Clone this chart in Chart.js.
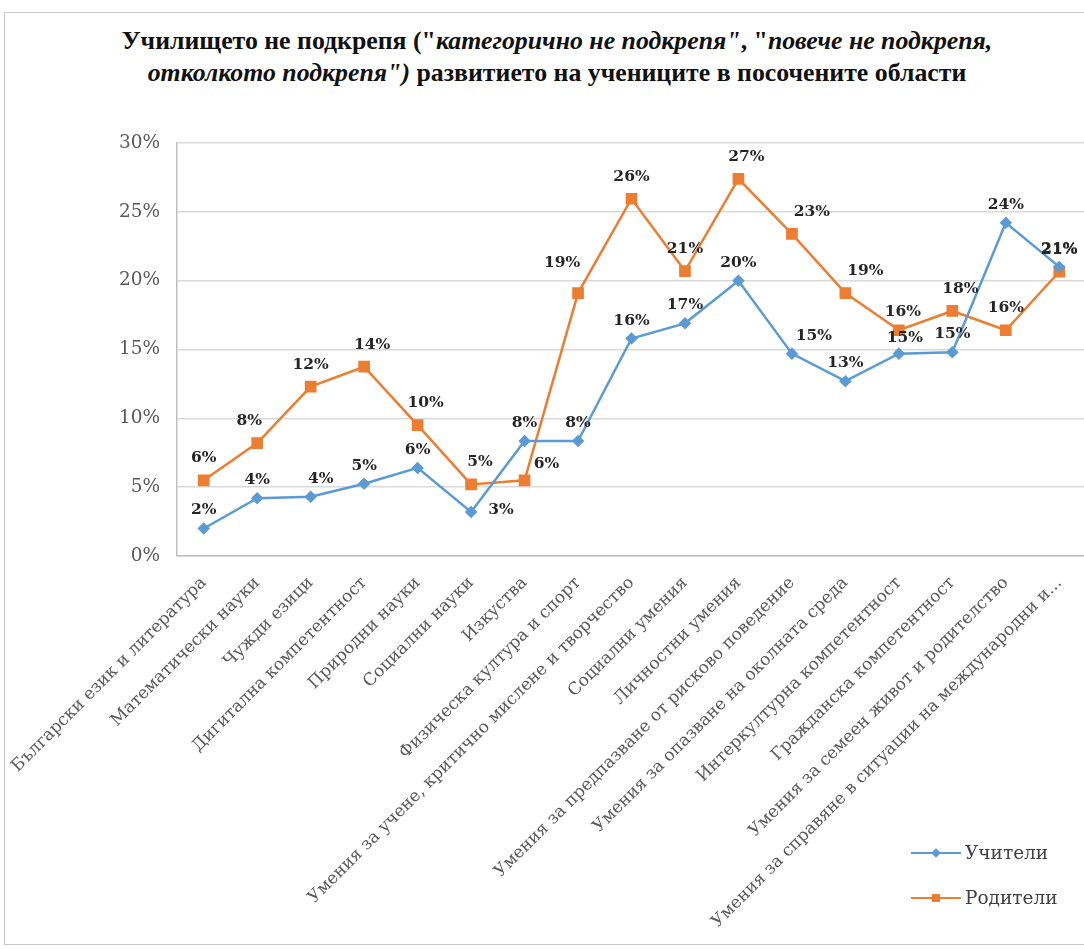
<!DOCTYPE html>
<html lang="bg">
<head>
<meta charset="utf-8">
<script src="https://cdn.jsdelivr.net/npm/chart.js@4.4.1/dist/chart.umd.min.js"></script>
<style>
  html, body { margin: 0; padding: 0; background: #fff; overflow: hidden; width: 1084px; height: 949px; }
  #box { position: absolute; left: 4px; top: 12px; width: 1100px; height: 933px; border: 1.5px solid #c9c9c9; box-sizing: border-box; }
  #title { position: absolute; left: -5px; top: 12px; width: 1114px; text-align: center; font-family: "Liberation Serif", serif; font-weight: bold; font-size: 25.8px; line-height: 32px; color: #111; }
  #chart { position: absolute; left: 0; top: 0; }
  #legend { position: absolute; left: 906px; top: 817px; font-family: "DejaVu Serif", serif; font-size: 18.5px; color: #404040; }
  .item { display: flex; align-items: center; height: 45px; }
  .swatch { position: relative; width: 50px; height: 12px; margin-right: 4px; }
  .swatch .ln { position: absolute; left: 0; right: 0; top: 5px; height: 2.5px; }
  .swatch .mk { position: absolute; left: 21px; top: 2px; width: 8px; height: 8px; }
</style>
</head>
<body>
<div id="box">
  <div id="title">
    Училището не подкрепя ("<i>категорично не подкрепя"</i>, "<i>повече не подкрепя,</i><br>
    <i>отколкото подкрепя")</i> развитието на учениците в посочените области
  </div>
  <canvas id="chart" width="1090" height="930"></canvas>
  <div id="legend">
    <div class="item"><span class="swatch"><span class="ln" style="background:#5B9BD5"></span><span class="mk" style="background:#5B9BD5;transform:rotate(45deg) scale(0.85)"></span></span>Учители</div>
    <div class="item"><span class="swatch"><span class="ln" style="background:#ED7D31"></span><span class="mk" style="background:#ED7D31"></span></span>Родители</div>
  </div>
</div>
<script>
const categories = [
    'Български език и литература',
    'Математически науки',
    'Чужди езици',
    'Дигитална компетентност',
    'Природни науки',
    'Социални науки',
    'Изкуства',
    'Физическа култура и спорт',
    'Умения за учене, критично мислене и творчество',
    'Социални умения',
    'Личностни умения',
    'Умения за предпазване от рисково поведение',
    'Умения за опазване на околната среда',
    'Интеркултурна компетентност',
    'Гражданска компетентност',
    'Умения за семеен живот и родителство',
    'Умения за справяне в ситуации на международни и...'
];

// % "не подкрепя"
const teachers = [2.0, 4.2, 4.3, 5.25, 6.4, 3.2, 8.35, 8.35, 15.8, 16.9, 20.0, 14.7, 12.7, 14.7, 14.8, 24.2, 21.0];
const parents = [5.5, 8.2, 12.3, 13.75, 9.5, 5.2, 5.5, 19.1, 25.95, 20.7, 27.4, 23.4, 19.1, 16.4, 17.8, 16.4, 20.65];

const yTicks = [0, 5, 10, 15, 20, 25, 30];

const BLUE = '#5B9BD5';
const ORANGE = '#ED7D31';

// small shifts for labels that would otherwise sit on a line
const nudge = {
    0: { 2: [10, 0], 5: [30, 16], 11: [22, 0], 13: [6, 2] },
    1: { 1: [-8, 0], 3: [8, 0], 4: [8, 0], 5: [9, 0], 6: [22, 6], 7: [-16, -8], 10: [8, 0], 11: [20, 0], 12: [20, 0], 13: [4, 4], 14: [8, 0] }
};

const valueLabels = {
    id: 'valueLabels',
    afterDatasetsDraw(chart) {
        const ctx = chart.ctx;
        ctx.save();
        ctx.font = 'bold 15.5px "DejaVu Serif", serif';
        ctx.fillStyle = '#262626';
        ctx.textAlign = 'center';
        ctx.textBaseline = 'middle';
        chart.data.datasets.forEach((ds, di) => {
            chart.getDatasetMeta(di).data.forEach((pt, i) => {
                const n = (nudge[di] && nudge[di][i]) || [0, 0];
                const dy = di === 0 ? -18 : -22;
                ctx.fillText(Math.round(ds.data[i]) + '%', pt.x + n[0], pt.y + dy + n[1]);
            });
        });
        ctx.restore();
    }
};

new Chart(document.getElementById('chart'), {
    type: 'line',
    data: {
        labels: categories,
        datasets: [
            {
                label: 'Учители',
                data: teachers,
                borderColor: BLUE,
                backgroundColor: BLUE,
                borderWidth: 2.5,
                pointStyle: 'rectRot',
                pointRadius: 4.5,
                tension: 0
            },
            {
                label: 'Родители',
                data: parents,
                borderColor: ORANGE,
                backgroundColor: ORANGE,
                borderWidth: 2.5,
                pointStyle: 'rect',
                pointRadius: 6.5,
                tension: 0
            }
        ]
    },
    options: {
        responsive: false,
        animation: false,
        layout: { padding: { top: 130, right: 2, left: 0, bottom: 0 } },
        plugins: {
            legend: { display: false },
            tooltip: { enabled: false }
        },
        scales: {
            x: {
                offset: true,
                grid: { display: false, drawTicks: false },
                border: { color: '#bfbfbf', width: 1.5 },
                ticks: {
                    autoSkip: false,
                    minRotation: 45,
                    maxRotation: 45,
                    padding: 17,
                    color: '#595959',
                    font: { family: '"DejaVu Serif", serif', size: 17 }
                },
                afterFit(scale) {
                    scale.height = 387;
                    // rotated labels already fit inside the y-axis gutter
                    scale.paddingLeft = 0;
                    scale.paddingRight = 0;
                }
            },
            y: {
                min: 0,
                max: 30,
                afterBuildTicks(scale) { scale.ticks = yTicks.map(v => ({ value: v })); },
                grid: { color: '#d9d9d9', lineWidth: 1.5, drawTicks: false },
                border: { color: '#bfbfbf', width: 1.5 },
                ticks: {
                    padding: 17,
                    color: '#595959',
                    font: { family: '"DejaVu Serif", serif', size: 18.5 },
                    callback: v => v + '%'
                },
                afterFit(scale) { scale.width = 172; }
            }
        }
    },
    plugins: [valueLabels]
});
</script>
</body>
</html>
